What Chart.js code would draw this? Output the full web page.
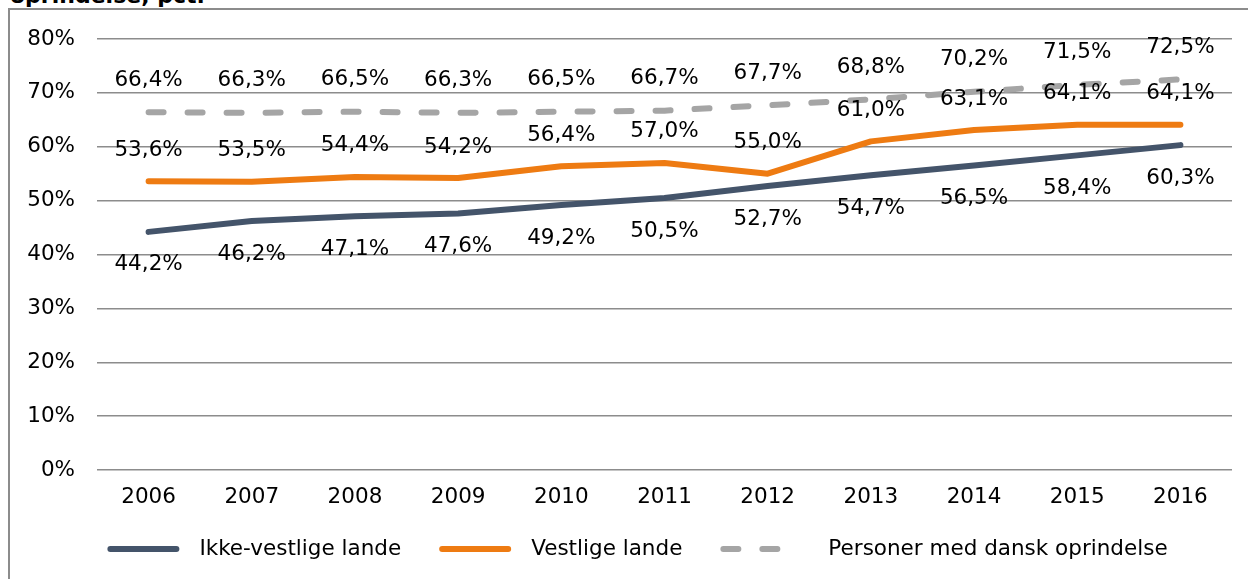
<!DOCTYPE html>
<html lang="da">
<head>
<meta charset="utf-8">
<title>Beskæftigelsesfrekvens efter oprindelse</title>
<script src="https://cdn.jsdelivr.net/npm/chart.js@4/dist/chart.umd.min.js"></script>
<style>
  html, body { margin: 0; padding: 0; background: #fff; overflow: hidden; }
  body { width: 1248px; height: 579px; position: relative; font-family: "DejaVu Sans", Verdana, sans-serif; }
  .chart-title { position: absolute; left: 10px; top: -15px; font-size: 22px; line-height: 22px; font-weight: bold; color: #000; white-space: nowrap; }
  .chart-frame { position: absolute; left: 8px; top: 8px; width: 1300px; height: 640px; border: 2px solid #8c8c8c; box-sizing: border-box; }
  #chart { position: absolute; left: 0; top: 0; }
</style>
</head>
<body>
<div class="chart-title">oprindelse, pct.</div>
<div class="chart-frame"></div>
<canvas id="chart" width="1248" height="579"></canvas>
<script>
// Data
const years = ['2006', '2007', '2008', '2009', '2010', '2011', '2012', '2013', '2014', '2015', '2016'];
const ikkeVestlige = [44.2, 46.2, 47.1, 47.6, 49.2, 50.5, 52.7, 54.7, 56.5, 58.4, 60.3];
const vestlige = [53.6, 53.5, 54.4, 54.2, 56.4, 57.0, 55.0, 61.0, 63.1, 64.1, 64.1];
const danskOprindelse = [66.4, 66.3, 66.5, 66.3, 66.5, 66.7, 67.7, 68.8, 70.2, 71.5, 72.5];
const seriesNames = ['Ikke-vestlige lande', 'Vestlige lande', 'Personer med dansk oprindelse'];
const yTicks = [0, 10, 20, 30, 40, 50, 60, 70, 80];

const FONT = '"DejaVu Sans", Verdana, sans-serif';
const FONT_SIZE = 21.5;

const formatPct = (v) => v.toFixed(1).replace('.', ',') + '%';

// draws the value labels next to each point (above or below, per dataset)
const pointLabels = {
  id: 'pointLabels',
  afterDatasetsDraw(chart) {
    const ctx = chart.ctx;
    ctx.save();
    ctx.font = FONT_SIZE + 'px ' + FONT;
    ctx.fillStyle = '#000';
    ctx.textAlign = 'center';
    ctx.textBaseline = 'middle';
    chart.data.datasets.forEach((ds, i) => {
      const meta = chart.getDatasetMeta(i);
      meta.data.forEach((pt, j) => {
        ctx.fillText(formatPct(ds.data[j]), pt.x, pt.y + ds.labelOffset);
      });
    });
    ctx.restore();
  }
};

// Excel style legend: line sample + text, spacing the built-in legend can't do
const lineLegend = {
  id: 'lineLegend',
  afterDraw(chart) {
    const ctx = chart.ctx;
    const sampleW = 66;
    const itemGap = 41;
    const y = 549;
    ctx.save();
    ctx.font = FONT_SIZE + 'px ' + FONT;
    const items = chart.data.datasets.map(ds => {
      const textW = ctx.measureText(ds.label).width;
      return { ds, textW, w: sampleW + ds.legendTextGap + textW };
    });
    const total = items.reduce((s, it) => s + it.w, 0) + itemGap * (items.length - 1);
    let x = chart.width / 2 + 15 - total / 2;
    items.forEach(({ ds, w }) => {
      ctx.beginPath();
      ctx.strokeStyle = ds.borderColor;
      ctx.lineWidth = ds.borderWidth;
      ctx.lineCap = 'round';
      ctx.setLineDash(ds.borderDash || []);
      ctx.moveTo(x, y);
      ctx.lineTo(x + sampleW, y);
      ctx.stroke();
      ctx.setLineDash([]);
      ctx.fillStyle = '#000';
      ctx.textAlign = 'left';
      ctx.textBaseline = 'middle';
      ctx.fillText(ds.label, x + sampleW + ds.legendTextGap, y);
      x += w + itemGap;
    });
    ctx.restore();
  }
};

const lineStyle = {
  borderWidth: 6,
  borderCapStyle: 'round',
  borderJoinStyle: 'round',
  pointRadius: 0,
  pointHoverRadius: 0,
  tension: 0,
  fill: false,
  legendTextGap: 23
};

const ctx = document.getElementById('chart').getContext('2d');
new Chart(ctx, {
  type: 'line',
  data: {
    labels: years,
    datasets: [
      { ...lineStyle, label: seriesNames[0], data: ikkeVestlige, borderColor: '#44546A', backgroundColor: '#44546A', labelOffset: 33 },
      { ...lineStyle, label: seriesNames[1], data: vestlige, borderColor: '#EE7B12', backgroundColor: '#EE7B12', labelOffset: -31 },
      { ...lineStyle, label: seriesNames[2], data: danskOprindelse, borderColor: '#A5A5A5', backgroundColor: '#A5A5A5', borderDash: [15, 24], labelOffset: -32, legendTextGap: 39 }
    ]
  },
  options: {
    responsive: false,
    animation: false,
    events: [],
    layout: { padding: { left: 27, right: 16, top: 39, bottom: 68 } },
    scales: {
      x: {
        offset: true,
        grid: { display: false, drawTicks: false },
        border: { display: false },
        ticks: { color: '#000', font: { family: FONT, size: FONT_SIZE }, padding: 15, maxRotation: 0 },
        afterFit: (scale) => { scale.height = 41; }
      },
      y: {
        min: 0,
        max: 80,
        afterBuildTicks: (scale) => { scale.ticks = yTicks.map(v => ({ value: v })); },
        grid: { color: '#8c8c8c', lineWidth: 1.5, drawTicks: false },
        border: { display: false },
        ticks: { color: '#000', font: { family: FONT, size: FONT_SIZE }, padding: 22, callback: (v) => v + '%' },
        afterFit: (scale) => { scale.width = 70; }
      }
    },
    plugins: {
      legend: { display: false },
      tooltip: { enabled: false }
    }
  },
  plugins: [pointLabels, lineLegend]
});
</script>
</body>
</html>
